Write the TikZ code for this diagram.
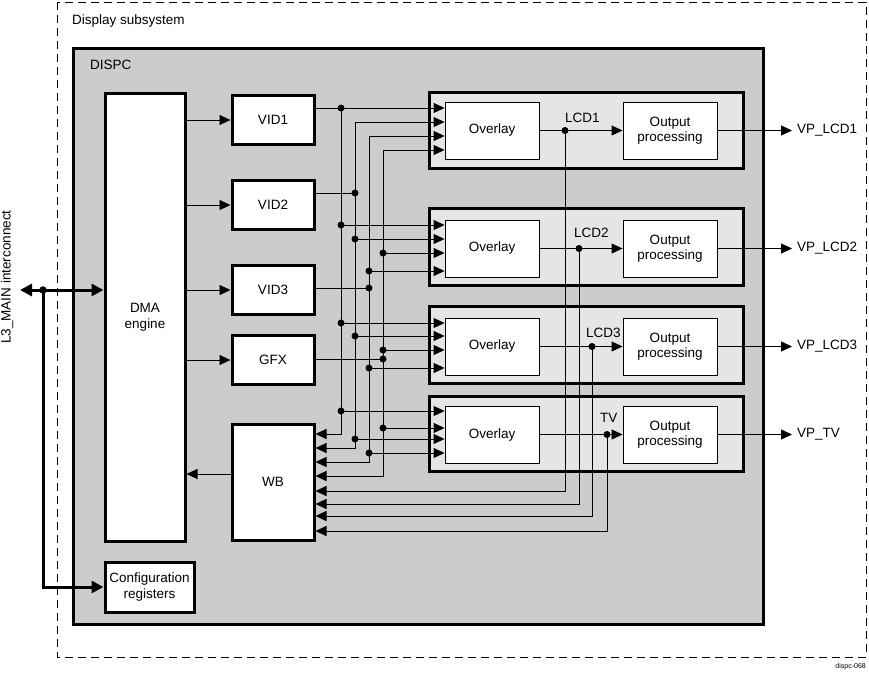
\documentclass[tikz,border=0pt]{standalone}
\usepackage{fontspec}
\setmainfont{Liberation Sans}
\usetikzlibrary{arrows.meta}
\definecolor{dispgray}{gray}{0.8}
\definecolor{pipegray}{gray}{0.9}
\newcommand\dfs{\fontsize{13.5}{15.5}\selectfont}
\begin{document}
\begin{tikzpicture}[x=1pt,y=-1pt,
  thickbox/.style={draw, line width=3pt, fill=white, align=center, inner sep=0pt, font=\dfs},
  thinbox/.style={draw, line width=0.9pt, fill=white, align=center, inner sep=0pt, font=\dfs,
                  minimum width=94pt, minimum height=57pt},
  pipebox/.style={draw, line width=3pt, fill=pipegray},
  wire/.style={line width=0.9pt},
  arr/.style={wire, -{Triangle[length=11pt,width=10pt]}},
  arrboth/.style={wire, {Triangle[length=11pt,width=10pt]}-{Triangle[length=11pt,width=10pt]}},
  bigarr/.style={line width=3pt, -{Triangle[length=12pt,width=12pt]}},
  bigboth/.style={line width=3pt, {Triangle[length=12pt,width=12pt]}-{Triangle[length=12pt,width=12pt]}},
  jdot/.style={circle, fill=black, inner sep=0pt, minimum size=7pt},
  lbl/.style={font=\dfs, inner sep=0pt},
]
\useasboundingbox (0,0) rectangle (869,673);

% frames
\draw[line width=0.9pt, dash pattern=on 8pt off 5pt] (57,2) rectangle (866,657);
\node[lbl, anchor=west] (subl) at (72,21) {Display subsystem};
\draw[line width=3pt, fill=dispgray] (73,48) rectangle (763,624);
\node[lbl, anchor=west] (dispcl) at (90,65) {DISPC};

% pipeline containers
\draw[pipebox] (429,92) rectangle (743,168);
\draw[pipebox] (429,208) rectangle (743,285);
\draw[pipebox] (429,306) rectangle (743,383);
\draw[pipebox] (429,396) rectangle (743,471);

% boxes
\node[thickbox, minimum width=80pt, minimum height=448pt] (dma) at (145,317) {DMA\\engine};
\node[thickbox, minimum width=82pt, minimum height=49pt] (vid1) at (273,120) {VID1};
\node[thickbox, minimum width=82pt, minimum height=49pt] (vid2) at (273,205) {VID2};
\node[thickbox, minimum width=82pt, minimum height=49pt] (vid3) at (273,290) {VID3};
\node[thickbox, minimum width=82pt, minimum height=49pt] (gfx) at (273,360) {GFX};
\node[thickbox, minimum width=82pt, minimum height=116pt] (wb) at (273,482) {WB};
\node[thickbox, minimum width=89pt, minimum height=50pt] (cfg) at (149.5,587) {Configuration\\registers};

\node[thinbox] (ov1) at (492,130.5) {Overlay};
\node[thinbox] (ov2) at (492,248.5) {Overlay};
\node[thinbox] (ov3) at (492,346.5) {Overlay};
\node[thinbox] (ov4) at (492,434.5) {Overlay};
\node[thinbox] (op1) at (670,130.5) {Output\\processing};
\node[thinbox] (op2) at (670,248.5) {Output\\processing};
\node[thinbox] (op3) at (670,346.5) {Output\\processing};
\node[thinbox] (op4) at (670,434.5) {Output\\processing};

% outputs
\node[lbl, anchor=west, inner xsep=5pt] (vp1) at (792,130.5) {VP\_LCD1};
\node[lbl, anchor=west, inner xsep=5pt] (vp2) at (792,248.5) {VP\_LCD2};
\node[lbl, anchor=west, inner xsep=5pt] (vp3) at (792,346.5) {VP\_LCD3};
\node[lbl, anchor=west, inner xsep=5pt] (vp4) at (792,434.5) {VP\_TV};
\draw[arr] (op1.east) -- (vp1.west);
\draw[arr] (op2.east) -- (vp2.west);
\draw[arr] (op3.east) -- (vp3.west);
\draw[arr] (op4.east) -- (vp4.west);

% DMA <-> pipes
\draw[arr] (dma.east |- vid1) -- (vid1.west);
\draw[arr] (dma.east |- vid2) -- (vid2.west);
\draw[arr] (dma.east |- vid3) -- (vid3.west);
\draw[arr] (dma.east |- gfx) -- (gfx.west);
\draw[arr] (wb.west |- 0,474) -- (dma.east |- 0,474);

% sources onto buses
\draw[arr] (vid1.east |- 0,108) -- (ov1.west |- 0,108);
\node[jdot] (j1) at (341,108) {};
\draw[wire] (vid2.east |- 0,193) -- (355,193);
\node[jdot] (j2) at (355,193) {};
\draw[wire] (vid3.east |- 0,288) -- (369,288);
\node[jdot] (j3) at (369,288) {};
\draw[wire] (gfx.east |- 0,359) -- (383,359);
\node[jdot] (j4) at (383,359) {};

% buses
\draw[arr] (j1.center) -- (341,434) -- (wb.east |- 0,434);
\draw[arrboth] (ov1.west |- 0,122) -- (355,122) -- (355,448) -- (wb.east |- 0,448);
\draw[arrboth] (ov1.west |- 0,136) -- (369,136) -- (369,462) -- (wb.east |- 0,462);
\draw[arrboth] (ov1.west |- 0,150) -- (383,150) -- (383,476) -- (wb.east |- 0,476);

% taps
\foreach \bx/\by/\ov in {341/225/ov2, 355/239/ov2, 383/253/ov2, 369/271/ov2,
                         341/323/ov3, 355/336/ov3, 383/350/ov3, 369/368/ov3,
                         341/411/ov4, 383/428/ov4, 355/439/ov4, 369/453/ov4}{
  \node[jdot] (t\bx-\by) at (\bx,\by) {};
  \draw[arr] (t\bx-\by.center) -- (\ov.west |- 0,\by);
}

% overlay outputs and write-back feeds
\foreach \n/\lx/\wy in {1/565/491, 2/579/504, 3/592/516, 4/607/531}{
  \draw[arr] (ov\n.east) -- (op\n.west);
  \node[jdot] (d\n) at (\lx,0 |- ov\n.east) {};
  \draw[arr] (d\n.center) -- (\lx,\wy) -- (wb.east |- 0,\wy);
}
\node[lbl, anchor=west] (lcd1) at (565,118) {LCD1};
\node[lbl, anchor=west] (lcd2) at (574,233) {LCD2};
\node[lbl, anchor=west] (lcd3) at (586,333) {LCD3};
\node[lbl, anchor=west] (tv) at (600,418) {TV};

% L3 interconnect
\node[lbl, rotate=90] (l3) at (7,277) {L3\_MAIN interconnect};
\coordinate (l3end) at (20,290);
\draw[bigboth] (l3end) -- (dma.west |- 0,290);
\node[jdot, minimum size=7.5pt] (jl) at (43,290) {};
\draw[bigarr] (jl.center) -- (43,587) -- (cfg.west);

\node[font=\fontsize{7}{8}\selectfont, anchor=east, inner sep=0pt] (ref) at (866,667) {dispc-068};
\end{tikzpicture}
\end{document}
